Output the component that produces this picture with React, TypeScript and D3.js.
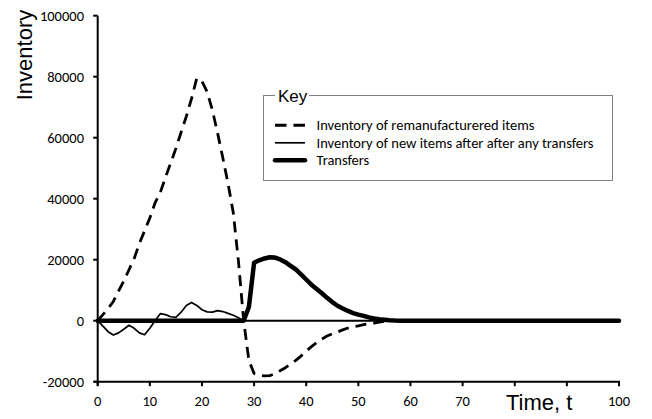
import React from "react";
import * as d3 from "d3";

const time = [
  0, 1, 2, 3, 4, 5, 6, 7, 8, 9, 10, 11, 12, 13, 14, 15, 16, 17, 18, 19, 20,
  21, 22, 23, 24, 25, 26, 27, 28, 29, 30, 31, 32, 33, 34, 35, 36, 37, 38, 39,
  40, 41, 42, 43, 44, 45, 46, 47, 48, 49, 50, 51, 52, 53, 54, 55, 56, 57, 58, 100,
];

const remanufactured = [
  0, 2000, 4000, 6300, 9700, 13000, 16700, 20400, 25300, 29500, 33700, 38600,
  42000, 47000, 51700, 56500, 61800, 67000, 72800, 79500, 78500, 75000, 69000,
  61500, 53400, 45000, 35500, 19500, 0, -13000, -17300, -17900, -18100, -18000,
  -17400, -16400, -15400, -14200, -13000, -11600, -10000, -8500, -7200, -6000,
  -5000, -4300, -3700, -3000, -2400, -2000, -1700, -1300, -1000, -800, -500,
  -200, 0, 0, 0, 0,
];

const newItems = [
  0, -1800, -3600, -4700, -4000, -2800, -1500, -2500, -4000, -4600, -2500, 0,
  2300, 2000, 1300, 1100, 2800, 5000, 6000, 5000, 3600, 2900, 2800, 3300, 3000,
  2400, 1800, 1000, 0, 0, 0, 0, 0, 0, 0, 0, 0, 0, 0, 0, 0, 0, 0, 0, 0, 0, 0, 0,
  0, 0, 0, 0, 0, 0, 0, 0, 0, 0, 0, 0,
];

const transfers = [
  0, 0, 0, 0, 0, 0, 0, 0, 0, 0, 0, 0, 0, 0, 0, 0, 0, 0, 0, 0, 0, 0, 0, 0, 0, 0,
  0, 0, 0, 4500, 19000, 19800, 20400, 20800, 20700, 20100, 19200, 18000, 16800,
  15200, 13500, 11800, 10400, 9000, 7500, 6100, 4900, 4000, 3200, 2500, 2000,
  1600, 1100, 700, 450, 300, 150, 50, 0, 0,
];

const xTicks = [0, 10, 20, 30, 40, 50, 60, 70, 80, 90, 100];
const xTickLabels = ["0", "10", "20", "30", "40", "50", "60", "70", "", "", "100"];
const yTicks = [100000, 80000, 60000, 40000, 20000, 0, -20000];

const legendItems = [
  "Inventory of remanufacturered items",
  "Inventory of new items after after any transfers",
  "Transfers",
];

const tickFont = "Carlito, Calibri, Lato, sans-serif";
const titleFont = "'Liberation Sans', Arial, sans-serif";

export default function App() {
  const W = 652;
  const H = 419;
  const x = d3.scaleLinear().domain([0, 100]).range([97.7, 619]);
  const y = d3.scaleLinear().domain([-20000, 100000]).range([381.7, 15.7]);

  const mk = (vals: number[]) =>
    d3
      .line<number>()
      .x((_, i) => x(time[i]))
      .y((v) => y(v))(vals) || "";

  const styles = [
    { w: 2.8, dash: "11 7", cap: "butt" as const },
    { w: 1.7, dash: undefined, cap: "butt" as const },
    { w: 4.5, dash: undefined, cap: "round" as const },
  ];
  const series = [remanufactured, newItems, transfers];

  const legX = 263.5;
  const legY = 95.5;
  const legW = 349;
  const legH = 85;

  return (
    <svg
      width={W}
      height={H}
      style={{ position: "absolute", left: 0, top: 0, background: "#fff" }}
    >
      <rect x={0} y={0} width={W} height={H} fill="#fff" />
      <line x1={x(0)} x2={x(100)} y1={y(0)} y2={y(0)} stroke="#000" strokeWidth={1.5} />

      <line x1={x(0)} x2={x(0)} y1={y(100000)} y2={y(-20000) + 4} stroke="#000" strokeWidth={2} />
      <line x1={x(0) - 4} x2={x(100) + 1} y1={y(-20000)} y2={y(-20000)} stroke="#000" strokeWidth={2} />
      {yTicks.map((t) => (
        <g key={"y" + t}>
          <line x1={x(0) - 4.5} x2={x(0)} y1={y(t)} y2={y(t)} stroke="#000" strokeWidth={2} />
          <text
            x={84}
            y={y(t)}
            dy="0.35em"
            textAnchor="end"
            fontFamily={tickFont}
            fontSize={14.5}
            fill="#000"
          >
            {t}
          </text>
        </g>
      ))}
      {xTicks.map((t, i) => (
        <g key={"x" + t}>
          <line x1={x(t)} x2={x(t)} y1={y(-20000)} y2={y(-20000) + 4.5} stroke="#000" strokeWidth={2} />
          <text
            x={x(t)}
            y={405.5}
            textAnchor="middle"
            fontFamily={tickFont}
            fontSize={14.5}
            fill="#000"
          >
            {xTickLabels[i]}
          </text>
        </g>
      ))}

      <text
        transform={`translate(32,55) rotate(-90)`}
        textAnchor="middle"
        fontFamily={titleFont}
        fontSize={22}
        fill="#000"
      >
        Inventory
      </text>
      <text x={506} y={410} fontFamily={titleFont} fontSize={22} fill="#000">
        Time, t
      </text>

      {series.map((s, i) => (
        <path
          key={"s" + i}
          d={mk(s)}
          fill="none"
          stroke="#000"
          strokeWidth={styles[i].w}
          strokeDasharray={styles[i].dash}
          strokeLinecap={styles[i].cap}
          strokeLinejoin="round"
        />
      ))}

      <rect x={legX} y={legY} width={legW} height={legH} fill="#fff" stroke="#808080" strokeWidth={1} />
      <rect x={275} y={legY - 3} width={34} height={6} fill="#fff" />
      <text x={278} y={101.5} fontFamily={titleFont} fontSize={17} fill="#000">
        Key
      </text>
      {legendItems.map((label, i) => {
        const ly = 125.3 + i * 17.5;
        return (
          <g key={"l" + i}>
            <line
              x1={275}
              x2={305}
              y1={ly}
              y2={ly}
              stroke="#000"
              strokeWidth={i === 0 ? 3 : styles[i].w}
              strokeDasharray={i === 0 ? "11.5 7" : undefined}
              strokeLinecap={i === 2 ? "round" : "butt"}
            />
            <text
              x={316.5}
              y={ly}
              dy="0.35em"
              fontFamily={tickFont}
              fontSize={14.5}
              fill="#000"
            >
              {label}
            </text>
          </g>
        );
      })}
    </svg>
  );
}
